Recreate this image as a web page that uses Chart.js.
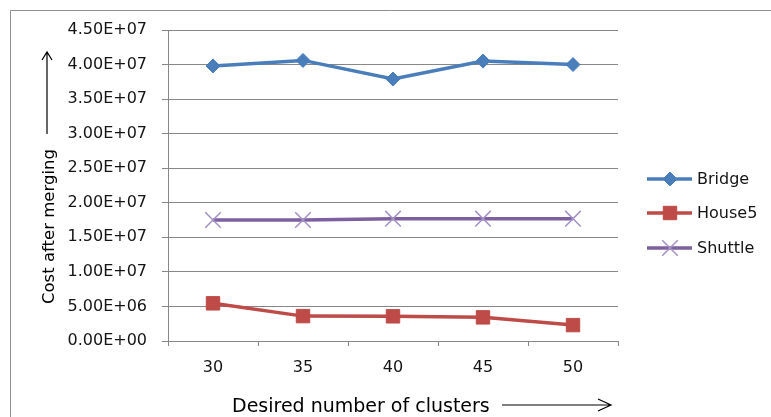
<!DOCTYPE html>
<html>
<head>
<meta charset="utf-8">
<script src="https://cdn.jsdelivr.net/npm/chart.js@4/dist/chart.umd.min.js"></script>
<style>
  html, body { margin: 0; padding: 0; background: #fff; overflow: hidden; }
  canvas { display: block; }
</style>
</head>
<body>
<canvas id="chart" width="771" height="417"></canvas>
<script>
// Cost after merging, per desired number of clusters
const categories = ['30', '35', '40', '45', '50'];
const bridgeCost  = [3.98e7, 4.06e7, 3.79e7, 4.05e7, 4.00e7];
const house5Cost  = [5.45e6, 3.60e6, 3.57e6, 3.42e6, 2.30e6];
const shuttleCost = [1.75e7, 1.75e7, 1.77e7, 1.77e7, 1.77e7];

const seriesNames = ['Bridge', 'House5', 'Shuttle'];
const yMin = 0;
const yMax = 4.5e7;
const yStep = 5e6;

const xAxisTitle = 'Desired number of clusters';
const yAxisTitle = 'Cost after merging';

const FONT = '"DejaVu Sans", sans-serif';
const TEXT = '#141414';
const GRID = '#878787';

// Excel-style scientific labels: 4.50E+07
function sci(v) {
  if (v === 0) return '0.00E+00';
  const parts = v.toExponential(2).split('e');
  const n = parseInt(parts[1], 10);
  return parts[0] + 'E' + (n < 0 ? '-' : '+') + String(Math.abs(n)).padStart(2, '0');
}

function drawMarker(ctx, style, x, y, r, fill, stroke, lw) {
  ctx.save();
  ctx.fillStyle = fill;
  ctx.strokeStyle = stroke;
  ctx.lineWidth = lw;
  ctx.beginPath();
  if (style === 'rectRot') {
    ctx.moveTo(x - r, y); ctx.lineTo(x, y - r); ctx.lineTo(x + r, y); ctx.lineTo(x, y + r);
    ctx.closePath(); ctx.fill(); ctx.stroke();
  } else if (style === 'rect') {
    const s = Math.SQRT1_2 * r;
    ctx.rect(x - s, y - s, 2 * s, 2 * s); ctx.fill(); ctx.stroke();
  } else if (style === 'crossRot') {
    const s = Math.SQRT1_2 * r;
    ctx.moveTo(x - s, y - s); ctx.lineTo(x + s, y + s);
    ctx.moveTo(x - s, y + s); ctx.lineTo(x + s, y - s);
    ctx.stroke();
  }
  ctx.restore();
}

// Outer frame of the chart object
const framePlugin = {
  id: 'frame',
  beforeDraw(chart) {
    const ctx = chart.ctx;
    ctx.save();
    ctx.fillStyle = '#ffffff';
    ctx.fillRect(0, 0, chart.width, chart.height);
    ctx.strokeStyle = '#8f8f8f';
    ctx.lineWidth = 1;
    ctx.beginPath();
    ctx.moveTo(10.5, chart.height);
    ctx.lineTo(10.5, 10.5);
    ctx.lineTo(chart.width, 10.5);
    ctx.stroke();
    ctx.restore();
  }
};

// Axis captions with arrows, and the legend on the right
const captionsPlugin = {
  id: 'captions',
  afterDraw(chart) {
    const ctx = chart.ctx;
    ctx.save();
    ctx.fillStyle = '#000';
    ctx.strokeStyle = '#000';
    ctx.lineWidth = 1.2;

    // vertical caption, reading upward
    ctx.save();
    ctx.translate(54, 304);
    ctx.rotate(-Math.PI / 2);
    ctx.font = '16.5px ' + FONT;
    ctx.textAlign = 'left';
    ctx.textBaseline = 'alphabetic';
    ctx.fillText(yAxisTitle, 0, 0);
    ctx.restore();

    ctx.beginPath();
    ctx.moveTo(47, 134); ctx.lineTo(47, 52);
    ctx.moveTo(42, 60); ctx.lineTo(47, 52); ctx.lineTo(52, 60);
    ctx.stroke();

    // horizontal caption
    ctx.font = '19px ' + FONT;
    ctx.textAlign = 'left';
    ctx.textBaseline = 'alphabetic';
    ctx.fillText(xAxisTitle, 232, 412);
    ctx.beginPath();
    ctx.moveTo(502, 405); ctx.lineTo(611, 405);
    ctx.moveTo(598, 399); ctx.lineTo(611, 405); ctx.lineTo(598, 411);
    ctx.stroke();

    // legend
    const rows = [179, 213, 248];
    ctx.font = '16px ' + FONT;
    ctx.textBaseline = 'middle';
    chart.data.datasets.forEach((ds, i) => {
      const y = rows[i];
      ctx.strokeStyle = ds.borderColor;
      ctx.lineWidth = ds.borderWidth;
      ctx.beginPath();
      ctx.moveTo(647, y); ctx.lineTo(692, y);
      ctx.stroke();
      drawMarker(ctx, ds.pointStyle, 670, y, ds.pointRadius,
                 ds.pointBackgroundColor, ds.pointBorderColor, ds.pointBorderWidth);
      ctx.fillStyle = TEXT;
      ctx.fillText(ds.label, 697, y + 1);
    });
    ctx.restore();
  }
};

new Chart(document.getElementById('chart'), {
  type: 'line',
  data: {
    labels: categories,
    datasets: [
      {
        label: seriesNames[0], data: bridgeCost,
        borderColor: '#4A7EBB', borderWidth: 3.5,
        pointStyle: 'rectRot', pointRadius: 7,
        pointBackgroundColor: '#4A7EBB', pointBorderColor: '#4A7EBB', pointBorderWidth: 1
      },
      {
        label: seriesNames[1], data: house5Cost,
        borderColor: '#BE4B48', borderWidth: 3.5,
        pointStyle: 'rect', pointRadius: 9.5,
        pointBackgroundColor: '#BE4B48', pointBorderColor: '#BE4B48', pointBorderWidth: 1
      },
      {
        label: seriesNames[2], data: shuttleCost,
        borderColor: '#7D60A0', borderWidth: 3.5,
        pointStyle: 'crossRot', pointRadius: 11,
        pointBackgroundColor: '#A491C6', pointBorderColor: '#A491C6', pointBorderWidth: 1.5
      }
    ]
  },
  options: {
    responsive: false,
    animation: false,
    events: [],
    layout: { padding: { top: 30, right: 153, bottom: 0, left: 0 } },
    elements: { line: { tension: 0 } },
    plugins: { legend: { display: false }, tooltip: { enabled: false }, title: { display: false } },
    scales: {
      x: {
        type: 'category',
        offset: true,
        grid: { offset: true, drawOnChartArea: false, drawTicks: true, tickLength: 5, color: GRID, lineWidth: 1 },
        border: { color: GRID, width: 1 },
        ticks: { color: TEXT, font: { family: FONT, size: 16 }, padding: 12, maxRotation: 0 },
        afterFit(scale) { scale.height = 76; }
      },
      y: {
        min: yMin, max: yMax,
        grid: { color: GRID, lineWidth: 1, tickLength: 6 },
        border: { color: GRID, width: 1 },
        ticks: { stepSize: yStep, color: TEXT, font: { family: FONT, size: 16 }, padding: 15, callback: v => sci(v) },
        afterFit(scale) { scale.width = 168; }
      }
    }
  },
  plugins: [framePlugin, captionsPlugin]
});
</script>
</body>
</html>
